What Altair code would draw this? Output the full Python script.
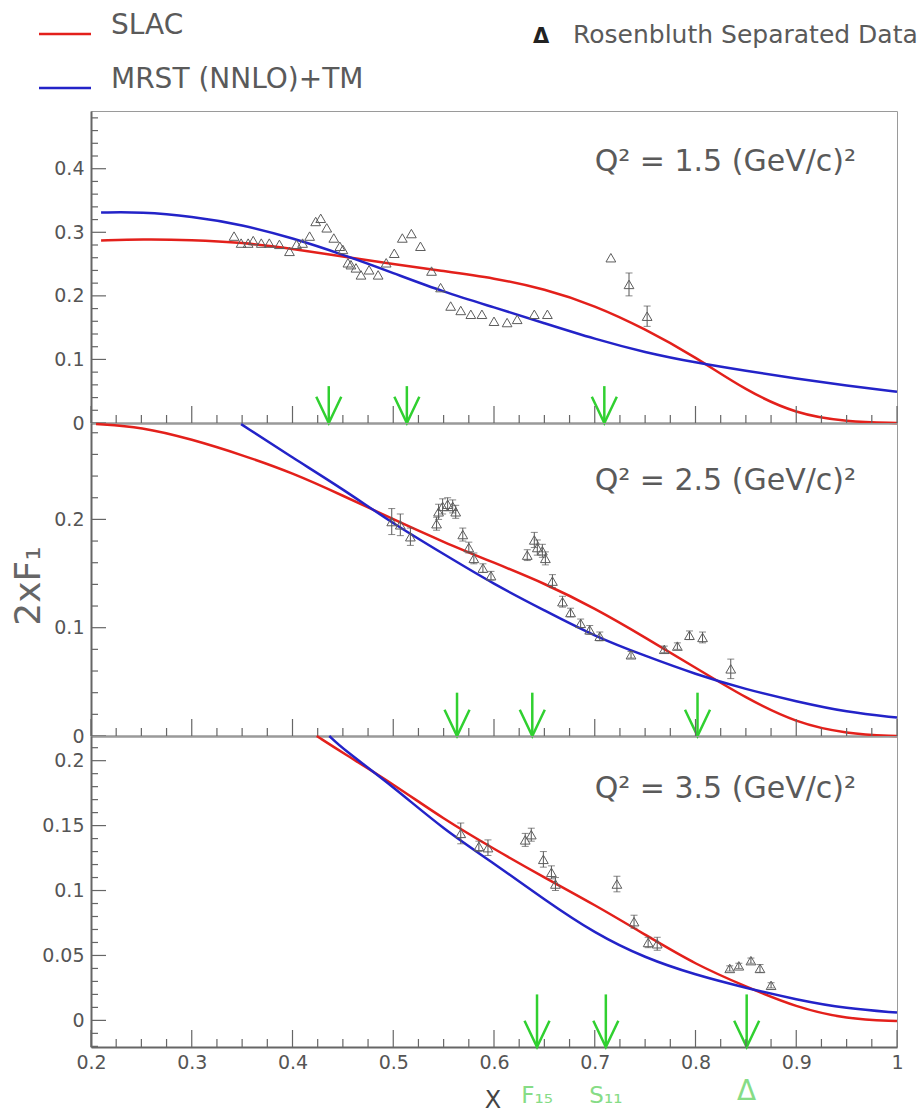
import altair as alt
import numpy as np
import pandas as pd

RED = "#e3201b"
BLUE = "#2323c8"
GREEN = "#30d030"
LGREEN = "#86dc86"
GREY = "#555555"
AXC = "#666666"
FONT = "DejaVu Sans"

W = 806
HEIGHTS = [312, 313, 311]
YDOMAINS = [[0.0, 0.4908], [0.0, 0.289], [-0.0205, 0.219]]
YMAJOR = [[0, 0.1, 0.2, 0.3, 0.4], [0, 0.1, 0.2], [0, 0.05, 0.1, 0.15, 0.2]]
YMINOR_STEP = [0.02, 0.02, 0.01]
Q2_LABELS = ["Q² = 1.5 (GeV/c)²", "Q² = 2.5 (GeV/c)²", "Q² = 3.5 (GeV/c)²"]
Q2_Y = [51, 58, 53]

X_MAJOR = [0.2, 0.3, 0.4, 0.5, 0.6, 0.7, 0.8, 0.9, 1.0]
X_MINOR = [round(0.2 + 0.025 * k, 3) for k in range(33) if k % 4 != 0]

# ---------------- Panel 1: Q2 = 1.5 ----------------
slac1_x = [0.21, 0.25, 0.30, 0.35, 0.40, 0.45, 0.50, 0.55, 0.60, 0.65, 0.70, 0.75, 0.80, 0.85, 0.90, 0.95, 1.00]
slac1_v = [0.287, 0.289, 0.288, 0.284, 0.274, 0.262, 0.250, 0.239, 0.228, 0.211, 0.185, 0.148, 0.104, 0.051, 0.014, 0.002, 0.0]
mrst1_x = [0.21, 0.25, 0.30, 0.35, 0.40, 0.45, 0.50, 0.55, 0.60, 0.65, 0.70, 0.75, 0.80, 0.85, 0.90, 0.95, 1.00]
mrst1_v = [0.331, 0.332, 0.325, 0.312, 0.291, 0.265, 0.236, 0.206, 0.182, 0.157, 0.132, 0.111, 0.095, 0.082, 0.070, 0.059, 0.049]
pts1_x = [0.342, 0.349, 0.356, 0.361, 0.369, 0.377, 0.387, 0.397, 0.404, 0.410, 0.417, 0.423, 0.428,
          0.434, 0.441, 0.447, 0.450, 0.455, 0.458, 0.463, 0.468, 0.476, 0.485, 0.493, 0.501, 0.509,
          0.518, 0.527, 0.538, 0.547, 0.557, 0.567, 0.577, 0.588, 0.600, 0.613, 0.623, 0.640, 0.653,
          0.716, 0.734, 0.752]
pts1_v = [0.294, 0.283, 0.283, 0.287, 0.283, 0.283, 0.281, 0.270, 0.281, 0.283, 0.294, 0.317, 0.322,
          0.307, 0.291, 0.278, 0.273, 0.252, 0.249, 0.244, 0.233, 0.241, 0.233, 0.252, 0.267, 0.291,
          0.298, 0.278, 0.239, 0.213, 0.184, 0.177, 0.171, 0.171, 0.160, 0.158, 0.163, 0.171, 0.171,
          0.260, 0.218, 0.168]
pts1_e = [0.0] * 40 + [0.018, 0.016]
arrows1_x = [0.436, 0.5135, 0.7095]
arrows1_top = 0.058

# ---------------- Panel 2: Q2 = 2.5 ----------------
slac2_x = [0.205, 0.25, 0.30, 0.35, 0.40, 0.45, 0.50, 0.55, 0.60, 0.65, 0.70, 0.75, 0.80, 0.85, 0.90, 0.95, 1.00]
slac2_v = [0.288, 0.2855, 0.274, 0.2595, 0.243, 0.222, 0.200, 0.179, 0.160, 0.141, 0.118, 0.091, 0.063, 0.035, 0.012, 0.002, 0.0]
mrst2_x = [0.349, 0.40, 0.45, 0.50, 0.55, 0.60, 0.65, 0.70, 0.75, 0.80, 0.85, 0.90, 0.95, 1.00]
mrst2_v = [0.288, 0.257, 0.228, 0.196, 0.168, 0.140, 0.116, 0.092, 0.074, 0.057, 0.043, 0.032, 0.022, 0.017]
pts2_x = [0.4985, 0.507, 0.517, 0.543, 0.545, 0.549, 0.554, 0.559, 0.562, 0.569, 0.575, 0.580, 0.589,
          0.597, 0.633, 0.640, 0.643, 0.648, 0.651, 0.658, 0.668, 0.676, 0.686, 0.695, 0.705, 0.736,
          0.769, 0.782, 0.794, 0.807, 0.835]
pts2_v = [0.198, 0.195, 0.184, 0.196, 0.207, 0.212, 0.214, 0.212, 0.207, 0.186, 0.174, 0.164, 0.155,
          0.148, 0.167, 0.181, 0.174, 0.171, 0.164, 0.143, 0.124, 0.114, 0.104, 0.098, 0.092, 0.075,
          0.080, 0.083, 0.093, 0.091, 0.062]
pts2_e = [0.012, 0.010, 0.008, 0.006, 0.007, 0.007, 0.006, 0.006, 0.006, 0.006, 0.005, 0.005, 0.004,
          0.004, 0.005, 0.007, 0.007, 0.006, 0.006, 0.006, 0.005, 0.004, 0.004, 0.004, 0.004, 0.003,
          0.003, 0.003, 0.004, 0.005, 0.009]
arrows2_x = [0.5633, 0.638, 0.802]
arrows2_top = 0.040

# ---------------- Panel 3: Q2 = 3.5 ----------------
slac3_x = [0.424, 0.45, 0.50, 0.55, 0.60, 0.65, 0.70, 0.75, 0.80, 0.85, 0.90, 0.95, 1.00]
slac3_v = [0.219, 0.206, 0.182, 0.155, 0.132, 0.110, 0.089, 0.066, 0.043, 0.026, 0.010, 0.001, -0.0005]
mrst3_x = [0.4365, 0.45, 0.50, 0.55, 0.60, 0.65, 0.70, 0.75, 0.80, 0.85, 0.90, 0.95, 1.00]
mrst3_v = [0.219, 0.209, 0.180, 0.147, 0.121, 0.093, 0.067, 0.048, 0.035, 0.025, 0.016, 0.009, 0.006]
pts3_x = [0.567, 0.585, 0.594, 0.631, 0.637, 0.649, 0.657, 0.661, 0.722, 0.739, 0.753, 0.762, 0.834,
          0.843, 0.855, 0.864, 0.875]
pts3_v = [0.144, 0.134, 0.133, 0.139, 0.143, 0.124, 0.114, 0.105, 0.105, 0.076, 0.060, 0.059, 0.040,
          0.042, 0.046, 0.040, 0.027]
pts3_e = [0.008, 0.004, 0.006, 0.005, 0.005, 0.006, 0.005, 0.005, 0.006, 0.005, 0.004, 0.005, 0.002,
          0.002, 0.002, 0.003, 0.002]
arrows3_x = [0.6427, 0.711, 0.8508]
arrows3_top = 0.020
res_labels = ["F₁₅", "S₁₁"]
delta_label = "Δ"


def make_panel(i, slac_x, slac_v, mrst_x, mrst_v, px, pv, pe, ax_, atop, bottom=False):
    h = HEIGHTS[i]
    ymin, ymax = YDOMAINS[i]
    xs = alt.Scale(domain=[0.2, 1.0], nice=False, zero=False)
    ys = alt.Scale(domain=YDOMAINS[i], nice=False, zero=False)
    if bottom:
        xaxis = alt.Axis(values=X_MAJOR,
                         labelExpr="datum.value == 1 ? '1' : format(datum.value, '.1f')",
                         ticks=False, labelPadding=6, labelFlush=False,
                         labelFontSize=19, labelFont=FONT, labelColor=GREY,
                         domainColor=AXC, domainWidth=2, grid=False, title=None)
    else:
        xaxis = alt.Axis(labels=False, ticks=False, domainColor=AXC,
                         domainWidth=2, grid=False, title=None)
    yaxis = alt.Axis(values=YMAJOR[i], format="~g", ticks=False, labelPadding=7,
                     labelFontSize=19, labelFont=FONT, labelColor=GREY,
                     domainColor=AXC, domainWidth=2, grid=False, title=None)

    X = lambda f: alt.X(f, scale=xs, axis=xaxis)
    Y = lambda f: alt.Y(f, scale=ys, axis=yaxis)

    layers = []
    layers.append(
        alt.Chart(pd.DataFrame({"x": slac_x, "v": slac_v}))
        .mark_line(color=RED, strokeWidth=2.5, interpolate="basis")
        .encode(x=X("x:Q"), y=Y("v:Q"))
    )
    layers.append(
        alt.Chart(pd.DataFrame({"x": mrst_x, "v": mrst_v}))
        .mark_line(color=BLUE, strokeWidth=2.5, interpolate="basis")
        .encode(x=X("x:Q"), y=Y("v:Q"))
    )
    pts = pd.DataFrame({"x": px, "v": pv, "e": pe})
    base = alt.Chart(pts).transform_filter("datum.e > 0").transform_calculate(
        lo="datum.v - datum.e", hi="datum.v + datum.e")
    layers.append(base.mark_rule(color=GREY, strokeWidth=1).encode(
        x=X("x:Q"), y=Y("lo:Q"), y2="hi:Q"))
    layers.append(base.mark_tick(color=GREY, orient="horizontal", size=7, thickness=1).encode(
        x=X("x:Q"), y=Y("lo:Q")))
    layers.append(base.mark_tick(color=GREY, orient="horizontal", size=7, thickness=1).encode(
        x=X("x:Q"), y=Y("hi:Q")))
    layers.append(
        alt.Chart(pts).mark_point(shape="triangle-up", size=95, filled=False, color="#5c5c5c",
                                  strokeWidth=1, opacity=1)
        .encode(x=X("x:Q"), y=Y("v:Q"))
    )
    # resonance arrows
    arr = pd.DataFrame({"x": ax_, "top": [atop] * len(ax_), "bot": [ymin] * len(ax_)})
    layers.append(alt.Chart(arr).mark_rule(color=GREEN, strokeWidth=2.5).encode(
        x=X("x:Q"), y=Y("top:Q"), y2="bot:Q"))
    layers.append(alt.Chart(arr).mark_point(shape="M-1,-2.1L0,0L1,-2.1", size=625, filled=False,
                                            color=GREEN, strokeWidth=2.5, opacity=1)
                  .encode(x=X("x:Q"), y=Y("bot:Q")))
    # inward ticks
    layers.append(alt.Chart(pd.DataFrame({"t": X_MAJOR})).mark_rule(color=AXC, strokeWidth=1.2)
                  .encode(x=X("t:Q"), y=alt.value(h), y2=alt.value(h - 17)))
    layers.append(alt.Chart(pd.DataFrame({"t": X_MINOR})).mark_rule(color=AXC, strokeWidth=1.2)
                  .encode(x=X("t:Q"), y=alt.value(h), y2=alt.value(h - 8)))
    step = YMINOR_STEP[i]
    n0 = int(np.ceil(ymin / step - 1e-9))
    n1 = int(np.floor(ymax / step + 1e-9))
    allt = [round(k * step, 3) for k in range(n0, n1 + 1)]
    yminor = [t for t in allt if all(abs(t - m) > 1e-6 for m in YMAJOR[i])]
    layers.append(alt.Chart(pd.DataFrame({"t": YMAJOR[i]})).mark_rule(color=AXC, strokeWidth=1.2)
                  .encode(y=Y("t:Q"), x=alt.value(0), x2=alt.value(15)))
    layers.append(alt.Chart(pd.DataFrame({"t": yminor})).mark_rule(color=AXC, strokeWidth=1.2)
                  .encode(y=Y("t:Q"), x=alt.value(0), x2=alt.value(7)))
    # Q2 label
    layers.append(alt.Chart(pd.DataFrame({"t": [Q2_LABELS[i]]}))
                  .mark_text(align="right", baseline="middle", font=FONT, fontSize=30, color="#5a5a5a")
                  .encode(text="t:N", x=alt.value(W - 41), y=alt.value(Q2_Y[i])))
    return layers, X, Y


one = pd.DataFrame({"a": [0]})


def text_layer(txt, x, y, **kw):
    return (alt.Chart(pd.DataFrame({"t": [txt]}))
            .mark_text(font=FONT, **kw)
            .encode(text="t:N", x=alt.value(x), y=alt.value(y)))


l1, X1, Y1 = make_panel(0, slac1_x, slac1_v, mrst1_x, mrst1_v, pts1_x, pts1_v, pts1_e, arrows1_x, arrows1_top)
# anchor for page position + legend
l1.append(alt.Chart(one).mark_rule(opacity=0).encode(
    x=alt.value(-90), x2=alt.value(-90), y=alt.value(-110), y2=alt.value(-100)))
l1.append(alt.Chart(one).mark_rule(color=RED, strokeWidth=2.5).encode(
    x=alt.value(-52), x2=alt.value(0), y=alt.value(-77)))
l1.append(alt.Chart(one).mark_rule(color=BLUE, strokeWidth=2.5).encode(
    x=alt.value(-52), x2=alt.value(0), y=alt.value(-23)))
l1.append(text_layer("SLAC", 20, -77, align="left", baseline="alphabetic", fontSize=28, color="#5a5a5a"))
l1.append(text_layer("MRST (NNLO)+TM", 20, -23, align="left", baseline="alphabetic", fontSize=28,
                     color="#5a5a5a"))
l1.append(text_layer("Δ", 450, -68, align="center", baseline="alphabetic", fontSize=21,
                     fontWeight="bold", color="#222222"))
l1.append(text_layer("Rosenbluth Separated Data", 482, -68, align="left", baseline="alphabetic",
                     fontSize=25, color="#5a5a5a"))
p1 = alt.layer(*l1).properties(width=W, height=HEIGHTS[0])

l2, X2, Y2 = make_panel(1, slac2_x, slac2_v, mrst2_x, mrst2_v, pts2_x, pts2_v, pts2_e, arrows2_x, arrows2_top)
l2.append(text_layer("2xF₁", -62, 163, align="center", baseline="middle", fontSize=36, angle=270,
                     color="#666666"))
p2 = alt.layer(*l2).properties(width=W, height=HEIGHTS[1])

l3, X3, Y3 = make_panel(2, slac3_x, slac3_v, mrst3_x, mrst3_v, pts3_x, pts3_v, pts3_e, arrows3_x, arrows3_top,
                        bottom=True)
l3.append(alt.Chart(pd.DataFrame({"t": ["X"], "x": [0.599]}))
          .mark_text(align="center", baseline="middle", font=FONT, fontSize=24, color="#444444")
          .encode(text="t:N", x=X3("x:Q"), y=alt.value(365)))
l3.append(alt.Chart(pd.DataFrame({"t": res_labels, "x": arrows3_x[:2]}))
          .mark_text(align="center", baseline="middle", font=FONT, fontSize=23, color=LGREEN)
          .encode(text="t:N", x=X3("x:Q"), y=alt.value(360)))
l3.append(alt.Chart(pd.DataFrame({"t": [delta_label], "x": arrows3_x[2:]}))
          .mark_text(align="center", baseline="middle", font=FONT, fontSize=28, color=LGREEN)
          .encode(text="t:N", x=X3("x:Q"), y=alt.value(356)))
p3 = alt.layer(*l3).properties(width=W, height=HEIGHTS[2])

chart = (
    alt.vconcat(p1, p2, p3, spacing=0, bounds="flush")
    .properties(padding=0, background="white")
    .configure_view(stroke="#9a9a9a", strokeWidth=1)
    .configure_axis(grid=False)
)

chart.save("out.html", embed_options={"renderer": "svg", "actions": False})
